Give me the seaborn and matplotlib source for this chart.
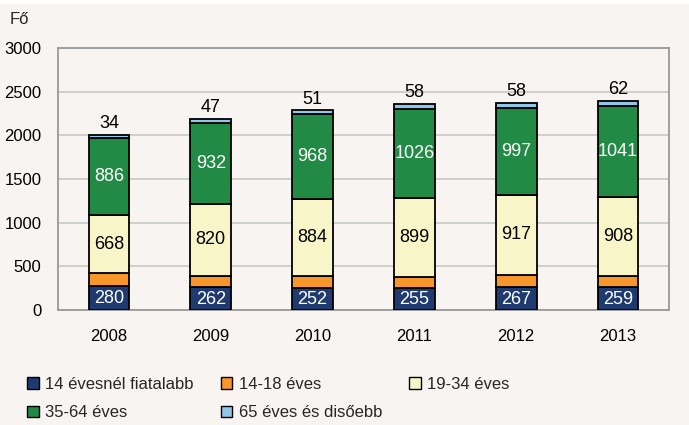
import matplotlib
matplotlib.use("Agg")
import matplotlib.pyplot as plt
import seaborn as sns
import pandas as pd
import numpy as np
from matplotlib.patches import Patch, Rectangle

years = ["2008", "2009", "2010", "2011", "2012", "2013"]
under14 = [280, 262, 252, 255, 267, 259]
age14_18 = [140, 130, 137, 125, 135, 128]
age19_34 = [668, 820, 884, 899, 917, 908]
age35_64 = [886, 932, 968, 1026, 997, 1041]
age65 = [34, 47, 51, 58, 58, 62]

series_names = ["14 évesnél fiatalabb", "14-18 éves", "19-34 éves", "35-64 éves", "65 éves és disőebb"]
series_vals = [under14, age14_18, age19_34, age35_64, age65]
colors = ["#1f3a6e", "#f7962b", "#f8f5c8", "#218a45", "#93c5e8"]
label_colors = ["white", None, "black", "white", "black"]

sns.set_theme(style="white")
plt.rcParams['font.family'] = ['Liberation Sans Narrow', 'Liberation Sans', 'DejaVu Sans']

bg = "#f7f4f1"
fig = plt.figure(figsize=(6.89, 4.25), dpi=100, facecolor=bg)
fig.patches.append(Rectangle((0, 1 - 4/425), 1, 4/425, transform=fig.transFigure,
                             facecolor="white", edgecolor="none"))
ax = fig.add_axes([58/689, 1-310/425, (669-58)/689, (310-48)/425])
ax.set_facecolor(bg)

rows = []
for name, vals in zip(series_names, series_vals):
    for y, v in zip(years, vals):
        rows.append({"year": y, "series": name, "value": v})
df = pd.DataFrame(rows)

bottom = np.zeros(len(years))
for i, (name, vals) in enumerate(zip(series_names, series_vals)):
    sub = df[df.series == name]
    ax.bar(sub["year"], sub["value"], bottom=bottom, width=0.4, color=colors[i],
           edgecolor="black", linewidth=1.3, zorder=3)
    for j, v in enumerate(vals):
        if i == 4:
            ax.text(j, bottom[j] + v + 25, str(v), ha="center", va="bottom", fontsize=13, color="black")
        elif label_colors[i] is not None:
            yy = bottom[j] + v / 2
            if i == 0:
                yy = bottom[j] + v / 2 - 10
            ax.text(j, yy, str(v), ha="center", va="center", fontsize=13, color=label_colors[i])
    bottom += np.array(vals)

ax.set_ylim(0, 3000)
ax.set_xlim(-0.5, 5.5)
ax.set_yticks(range(0, 3001, 500))
ax.yaxis.grid(True, color="#c8c8c8", linewidth=1.2, zorder=0)
ax.set_axisbelow(True)
for s in ax.spines.values():
    s.set_color("#999999")
    s.set_linewidth(1.3)
ax.tick_params(axis="both", length=0, labelsize=12, colors="black")
ax.tick_params(axis="x", pad=14)
ax.tick_params(axis="y", pad=12)
ax.set_xlabel("")
ax.set_ylabel("")
fig.text(10/689, 1-19/425, "Fő", fontsize=12, va="center", ha="left")

handles = [Patch(facecolor=c, edgecolor="black", linewidth=1.0) for c in colors]
order = [0, 3, 1, 4, 2]
fig.legend([handles[k] for k in order], [series_names[k] for k in order],
           loc="upper left", bbox_to_anchor=(12/689, 1-362/425),
           ncol=3, frameon=False, fontsize=12, handlelength=0.7, handleheight=0.7,
           handletextpad=0.4, columnspacing=1.6, labelspacing=0.8)

fig.savefig("out.png", dpi=100, facecolor=bg)
